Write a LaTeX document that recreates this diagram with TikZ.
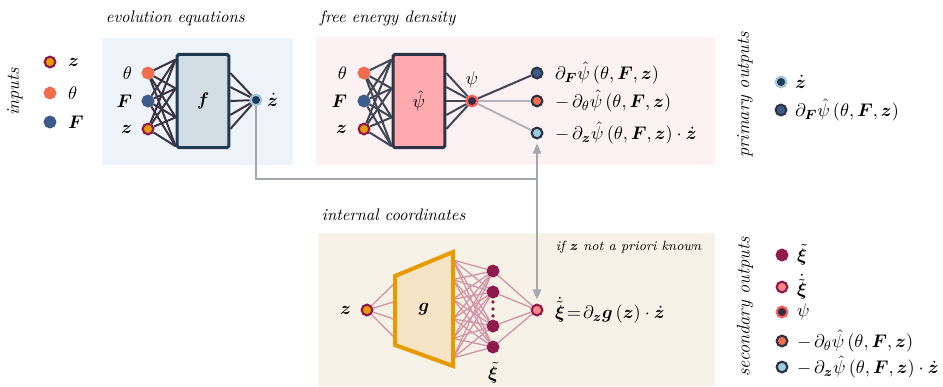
\documentclass[tikz,border=0pt]{standalone}
\usepackage{amsmath,bm}
\usetikzlibrary{calc,arrows.meta}
\definecolor{evbg}{HTML}{EEF4F9}
\definecolor{febg}{HTML}{FDF2F3}
\definecolor{icbg}{HTML}{F7F2E7}
\definecolor{fline}{HTML}{1F3B53}
\definecolor{ffill}{HTML}{D2DDE4}
\definecolor{pline}{HTML}{2C3446}
\definecolor{pfill}{HTML}{FFAAAE}
\definecolor{gline}{HTML}{E89B00}
\definecolor{gfill}{HTML}{F7E3C5}
\definecolor{zring}{HTML}{8E1B4B}
\definecolor{zfill}{HTML}{E89B00}
\definecolor{thetacol}{HTML}{F26D4E}
\definecolor{Fcol}{HTML}{3D5B88}
\definecolor{zdring}{HTML}{A8C3D6}
\definecolor{zdfill}{HTML}{1B3C59}
\definecolor{psiring}{HTML}{FF5A5C}
\definecolor{psifill}{HTML}{2C3042}
\definecolor{dZfill}{HTML}{9DCBE0}
\definecolor{xidfill}{HTML}{FF8587}
\definecolor{evwirecol}{HTML}{3B3244}
\definecolor{fewirecol}{HTML}{414656}
\definecolor{fadecol}{HTML}{B4B5BB}
\definecolor{icwirecol}{HTML}{D295A8}
\definecolor{feedcol}{HTML}{A4A7AE}
\tikzset{
  unit/.style={circle,inner sep=0pt,minimum size=6.4pt,line width=1.3pt},
  zin/.style={unit,draw=zring,fill=zfill},
  thetain/.style={unit,draw=thetacol,fill=thetacol},
  Fin/.style={unit,draw=Fcol,fill=Fcol},
  zdotnode/.style={unit,draw=zdring,fill=zdfill},
  psinode/.style={unit,draw=psiring,fill=psifill},
  dFnode/.style={unit,draw=pline,fill=Fcol},
  dTnode/.style={unit,draw=pline,fill=thetacol},
  dZnode/.style={unit,draw=pline,fill=dZfill},
  xinode/.style={unit,draw=zring,fill=zring},
  xidotnode/.style={unit,draw=zring,fill=xidfill},
  netbox/.style={rectangle,line width=1.8pt,rounded corners=1pt,
    minimum width=31pt,minimum height=56pt},
  head/.style={anchor=west,font=\itshape},
  legend/.style={anchor=west,inner sep=1pt},
  tag/.style={anchor=east,inner sep=1pt},
  evwire/.style={draw=evwirecol,line width=1.2pt},
  fewire/.style={draw=fewirecol,line width=1.2pt},
  fadewire/.style={draw=fadecol,line width=1.2pt},
  icwire/.style={draw=icwirecol,line width=0.8pt},
  feedback/.style={draw=feedcol,line width=1.1pt},
  feedtip/.style={-{Triangle[width=5pt,length=6pt]}}
}
\begin{document}
\begin{tikzpicture}[x=0.6pt,y=-0.6pt,font=\fontsize{11}{13}\selectfont]
  \useasboundingbox (0,0) rectangle (943,386);
  % panels
  \fill[evbg] (102,38) rectangle (293,165);
  \fill[febg] (316,37) rectangle (715,165);
  \fill[icbg] (318,233) rectangle (715,386);
  \node[head] (evhead) at (100,18) {evolution equations};
  \node[head] (fehead) at (314,18) {free energy density};
  \node[head] (ichead) at (316,215) {internal coordinates};

  % inputs
  \node[rotate=90] (inhead) at (15,92) {\textit{inputs}};
  \node[zin] (lz) at (50,62) {};
  \node[thetain] (ltheta) at (50,93) {};
  \node[Fin] (lF) at (50,122) {};
  \node[legend] (lzL) at (66,62) {$\bm z$};
  \node[legend] (lthetaL) at (66,93) {$\theta$};
  \node[legend] (lFL) at (66,122) {$\bm F$};

  % evolution equations
  \node[netbox,draw=fline,fill=ffill] (fbox) at (203,101) {$\bm f$};
  \node[thetain] (etheta) at (148,73) {};
  \node[Fin] (eF) at (148,101) {};
  \node[zin] (ez) at (148,129) {};
  \node[tag] (ethetaL) at (134,73) {$\theta$};
  \node[tag] (eFL) at (134,101) {$\bm F$};
  \node[tag] (ezL) at (134,129) {$\bm z$};
  \node[zdotnode] (ezdot) at (256,100) {};
  \node[legend] (ezdotL) at (265,100) {$\dot{\bm z}$};
  \foreach \n in {etheta,eF,ez}
    \foreach \t in {0.07,0.37,0.67,0.97}
      \draw[evwire] (\n) -- ($(fbox.north west)!\t!(fbox.south west)$);
  \foreach \t in {0.21,0.355,0.5,0.645,0.79}
    \draw[evwire] ($(fbox.north east)!\t!(fbox.south east)$) -- (ezdot);

  % free energy density
  \node[netbox,draw=pline,fill=pfill] (pbox) at (419,101) {$\hat\psi$};
  \node[thetain] (ftheta) at (364,73) {};
  \node[Fin] (fF) at (364,101) {};
  \node[zin] (fz) at (364,129) {};
  \node[tag] (fthetaL) at (349,73) {$\theta$};
  \node[tag] (fFL) at (349,101) {$\bm F$};
  \node[tag] (fzL) at (349,129) {$\bm z$};
  \node[psinode] (psi) at (472,101) {};
  \node (psiL) at (472,80) {$\psi$};
  \foreach \n in {ftheta,fF,fz}
    \foreach \t in {0.07,0.37,0.67,0.97}
      \draw[fewire] (\n) -- ($(pbox.north west)!\t!(pbox.south west)$);
  \foreach \t in {0.21,0.355,0.5,0.645,0.79}
    \draw[fewire] ($(pbox.north east)!\t!(pbox.south east)$) -- (psi);
  \node[dFnode] (dF) at (537,73) {};
  \node[dTnode] (dT) at (537,101) {};
  \node[dZnode] (dZ) at (537,133) {};
  \draw[fewire] (psi) -- (dF);
  \draw[fadewire] (psi) -- (dT);
  \draw[fadewire] (psi) -- (dZ);
  \node[legend] (dFL) at (553,73) {$\partial_{\bm F}\hat\psi\left(\theta,\bm F,\bm z\right)$};
  \node[legend] (dTL) at (553,101) {$-\,\partial_{\theta}\hat\psi\left(\theta,\bm F,\bm z\right)$};
  \node[legend] (dZL) at (553,133) {$-\,\partial_{\bm z}\hat\psi\left(\theta,\bm F,\bm z\right)\cdot\dot{\bm z}$};

  % internal coordinates
  \coordinate (gtl) at (395,276);
  \coordinate (gbl) at (395,345);
  \coordinate (gtr) at (453,252);
  \coordinate (gbr) at (453,366);
  \node[zin] (iz) at (367,310) {};
  \node[tag] (izL) at (353,310) {$\bm z$};
  \node[xinode] (xi1) at (493,271) {};
  \node[xinode] (xi2) at (493,292) {};
  \node[xinode] (xi3) at (493,326) {};
  \node[xinode] (xi4) at (493,347) {};
  \foreach \y in {302,309,316} \fill[zring] (493,\y) circle (1.1pt);
  \node[xidotnode] (xidot) at (537,310) {};
  \foreach \t in {0.1,0.37,0.63,0.9}
    \draw[icwire] (iz) -- ($(gtl)!\t!(gbl)$);
  \foreach \n in {xi1,xi2,xi3,xi4} {
    \foreach \t in {0.07,0.242,0.414,0.586,0.758,0.93}
      \draw[icwire] ($(gtr)!\t!(gbr)$) -- (\n);
    \draw[icwire] (\n) -- (xidot);
  }
  \draw[draw=gline,fill=gfill,line width=2.4pt] (gtl) -- (gtr) -- (gbr) -- (gbl) -- cycle;
  \node (gL) at (424,309) {$\bm g$};
  \node (xiL) at (493,373) {$\tilde{\bm\xi}$};
  \node[legend] (xidotL) at (553,310) {$\dot{\tilde{\bm\xi}}\!=\!\partial_{\bm z}\bm g\left(\bm z\right)\cdot\dot{\bm z}$};
  \node[anchor=east,font=\footnotesize\itshape] (note) at (707,247) {if $\bm z$ not a priori known};

  % feedback of zdot
  \coordinate (fork) at (537,179);
  \draw[feedback] (ezdot) |- (fork);
  \draw[feedback,feedtip,shorten >=2.5pt] (fork) -- (dZ);
  \draw[feedback,feedtip,shorten >=2.5pt] (fork) -- (xidot);

  % primary outputs
  \node[rotate=90] (prihead) at (745,95) {\textit{primary outputs}};
  \node[zdotnode] (pzdot) at (781,82) {};
  \node[dFnode] (pdF) at (781,110) {};
  \node[legend] (pzdotL) at (793,82) {$\dot{\bm z}$};
  \node[legend] (pdFL) at (793,110) {$\partial_{\bm F}\hat\psi\left(\theta,\bm F,\bm z\right)$};

  % secondary outputs
  \node[rotate=90] (sechead) at (745,307) {\textit{secondary outputs}};
  \node[xinode] (sxi) at (782,255) {};
  \node[xidotnode] (sxidot) at (782,287) {};
  \node[psinode] (spsi) at (782,312) {};
  \node[dTnode] (sdT) at (782,341) {};
  \node[dZnode] (sdZ) at (782,367) {};
  \node[legend] (sxiL) at (795,255) {$\tilde{\bm\xi}$};
  \node[legend] (sxidotL) at (795,287) {$\dot{\tilde{\bm\xi}}$};
  \node[legend] (spsiL) at (795,312) {$\psi$};
  \node[legend] (sdTL) at (795,341) {$-\,\partial_{\theta}\hat\psi\left(\theta,\bm F,\bm z\right)$};
  \node[legend] (sdZL) at (795,367) {$-\,\partial_{\bm z}\hat\psi\left(\theta,\bm F,\bm z\right)\cdot\dot{\bm z}$};
\end{tikzpicture}
\end{document}
